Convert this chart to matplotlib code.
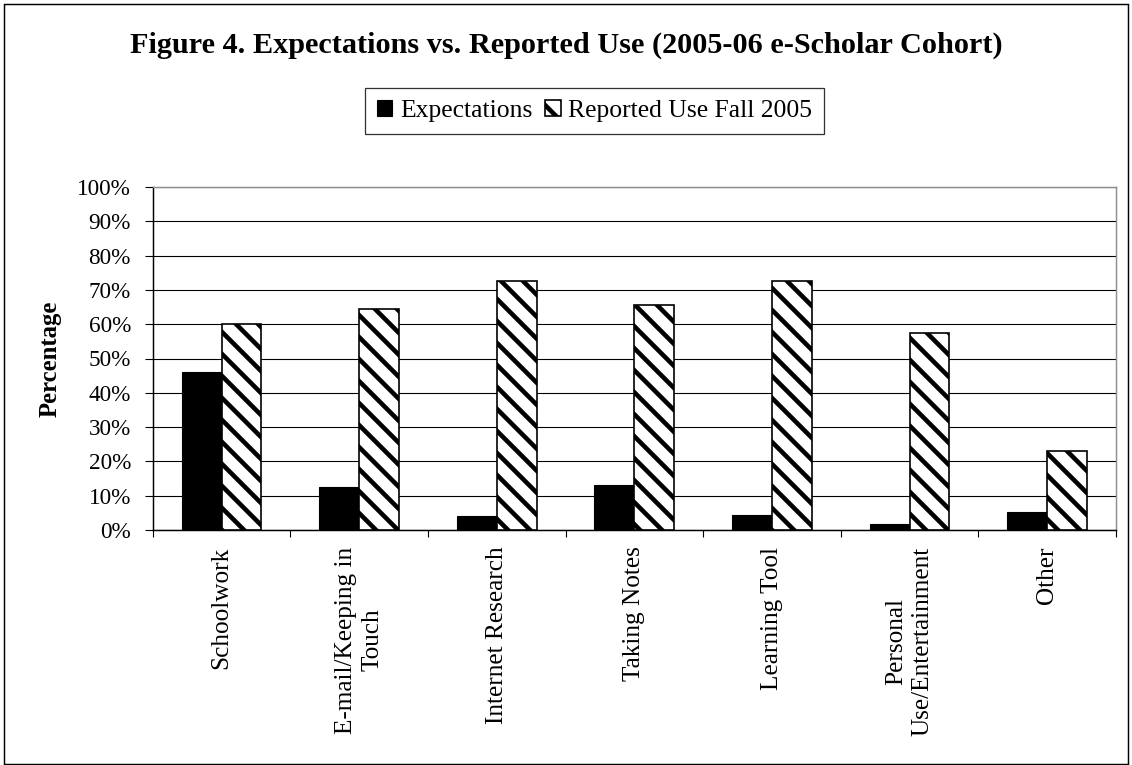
import numpy as np
import matplotlib
matplotlib.use("Agg")
import matplotlib.pyplot as plt
from matplotlib.patches import Rectangle

# valeurs (%)
categories = ["Schoolwork", "E-mail/Keeping in\nTouch", "Internet Research",
              "Taking Notes", "Learning Tool", "Personal\nUse/Entertainment", "Other"]
expectations = [46, 12.5, 4, 13, 4.5, 1.7, 5.2]
reported_use = [60, 64.5, 72.5, 65.5, 72.5, 57.5, 23]
y_ticks = [0, 10, 20, 30, 40, 50, 60, 70, 80, 90, 100]

DPI = 132
W, H = 1132, 765

plt.rcParams['font.family'] = ['Liberation Serif', 'DejaVu Serif']
plt.rcParams['hatch.linewidth'] = 2.5
plt.rcParams['hatch.color'] = 'black'

fig = plt.figure(figsize=(W / DPI, H / DPI), dpi=DPI)
ax = fig.add_axes([152.7 / W, 1 - 530 / H, (1116 - 152.7) / W, (530 - 187) / H])

x = np.arange(len(categories))
bw = 0.29
b1 = ax.bar(x - bw / 2, expectations, bw, color='black', edgecolor='black',
            linewidth=0.6, label='Expectations', zorder=3)
b2 = ax.bar(x + bw / 2, reported_use, bw, color='white', edgecolor='black',
            linewidth=0.9, hatch='\\\\', label='Reported Use Fall 2005', zorder=3)

ax.set_xlim(-0.5, len(categories) - 0.5)
ax.set_ylim(0, 100)

# quadrillage
ax.set_yticks(y_ticks)
ax.set_yticklabels([f"{v}%" for v in y_ticks], fontsize=12.7)
ax.yaxis.grid(True, color='black', linewidth=0.6, zorder=0)
ax.set_axisbelow(True)
ax.tick_params(axis='y', direction='out', length=4.4, width=0.6, pad=7.5)

ax.set_xticks(x)
ax.set_xticklabels(categories, rotation=90, fontsize=13.8, va='top', ha='center',
                   multialignment='center', linespacing=1.25)
ax.set_xticks(np.arange(-0.5, len(categories)), minor=True)
ax.tick_params(axis='x', which='major', length=0, pad=9)
ax.tick_params(axis='x', which='minor', direction='out', length=3.6, width=0.6)

for s in ['top', 'right']:
    ax.spines[s].set_color('#909090')
    ax.spines[s].set_linewidth(0.8)
for s in ['left', 'bottom']:
    ax.spines[s].set_color('black')
    ax.spines[s].set_linewidth(0.8)

fig.text(50 / W, 1 - 358.5 / H, 'Percentage', rotation=90, fontsize=13.5,
         fontweight='bold', ha='center', va='center')

fig.text(566 / W, 1 - 45 / H,
         'Figure 4. Expectations vs. Reported Use (2005-06 e-Scholar Cohort)',
         fontsize=16.5, fontweight='bold', ha='center', va='center')

leg = fig.legend(handles=[b1, b2], loc='center', bbox_to_anchor=(594.5 / W, 1 - 111 / H),
                 ncol=2, fontsize=14, frameon=True, fancybox=False,
                 handlelength=0.6, handleheight=0.6, handletextpad=0.3,
                 columnspacing=0.5, borderpad=0.45, borderaxespad=0)
leg.get_frame().set_edgecolor('black')
leg.get_frame().set_linewidth(0.7)

# cadre extérieur
fig.patches.append(Rectangle((4 / W, 1 / H), (1128 - 4) / W, (761 - 1) / H,
                             transform=fig.transFigure, fill=False,
                             edgecolor='black', linewidth=0.8))

fig.savefig('out.png', dpi=DPI)
